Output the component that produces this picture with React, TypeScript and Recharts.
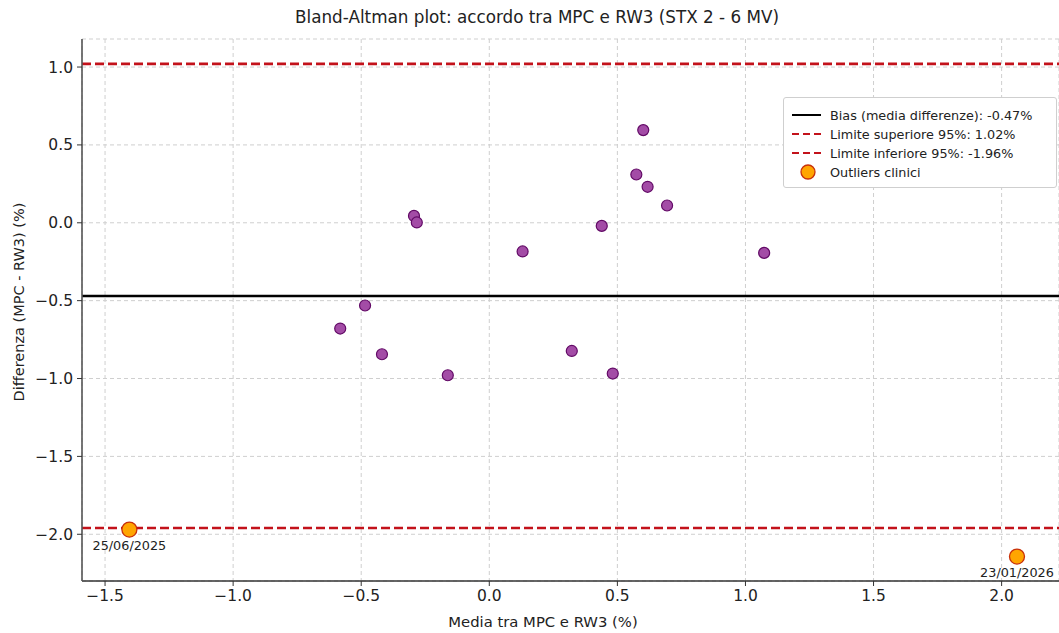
import React from "react";
import {
  ScatterChart,
  Scatter,
  XAxis,
  YAxis,
  CartesianGrid,
  ReferenceLine,
  Legend,
  Label,
} from "recharts";

// medie e differenze tra MPC e RW3 (%)
const meanVals = [-0.582, -0.485, -0.419, -0.294, -0.283, -0.162, 0.13, 0.322, 0.439, 0.482, 0.574, 0.601, 0.618, 0.694, 1.073];
const diffVals = [-0.679, -0.531, -0.844, 0.044, 0.002, -0.979, -0.184, -0.823, -0.02, -0.968, 0.31, 0.595, 0.231, 0.111, -0.193];

// outliers clinici
const outlierMeans = [-1.405, 2.06];
const outlierDiffs = [-1.97, -2.143];
const outlierDates = ["25/06/2025", "23/01/2026"];

const bias = -0.47;
const upperLimit = 1.02;
const lowerLimit = -1.96;

const xTicks = [-1.5, -1.0, -0.5, 0.0, 0.5, 1.0, 1.5, 2.0];
const yTicks = [-2.0, -1.5, -1.0, -0.5, 0.0, 0.5, 1.0];

const points = meanVals.map((m, i) => ({ x: m, y: diffVals[i] }));
const outliers = outlierMeans.map((m, i) => ({ x: m, y: outlierDiffs[i], date: outlierDates[i] }));

const FONT = "'DejaVu Sans', sans-serif";
const RED = "#c3121b";
const fmt = (v: number) => v.toFixed(1).replace("-", "\u2212");

const legendRows = [
  { kind: "solid", text: `Bias (media differenze): ${bias.toFixed(2)}%` },
  { kind: "dash", text: `Limite superiore 95%: ${upperLimit.toFixed(2)}%` },
  { kind: "dash", text: `Limite inferiore 95%: ${lowerLimit.toFixed(2)}%` },
  { kind: "dot", text: "Outliers clinici" },
];

function LegendBox() {
  return (
    <div
      style={{
        position: "relative",
        width: 272,
        height: 89,
        background: "#fff",
        border: "1px solid #cfcfcf",
        borderRadius: 3,
        fontFamily: FONT,
        fontSize: 12.8,
        color: "#222",
      }}
    >
      {legendRows.map((r, i) => (
        <div key={i} style={{ position: "absolute", left: 0, top: 8 + i * 19, height: 18, display: "flex", alignItems: "center" }}>
          <svg width={46} height={18}>
            {r.kind === "solid" && <line x1={8} x2={37} y1={9} y2={9} stroke="#000" strokeWidth={2} />}
            {r.kind === "dash" && (
              <line x1={8} x2={37} y1={9} y2={9} stroke={RED} strokeWidth={2} strokeDasharray="7 4" />
            )}
            {r.kind === "dot" && <circle cx={24} cy={9} r={7} fill="#ffa500" stroke="#c8300a" strokeWidth={1.3} />}
          </svg>
          <span style={{ whiteSpace: "nowrap" }}>{r.text}</span>
        </div>
      ))}
    </div>
  );
}

const PointShape = (props: any) => (
  <circle cx={props.cx} cy={props.cy} r={5.5} fill="#a34ca6" stroke="#620a66" strokeWidth={1.2} />
);

const OutlierShape = (props: any) => (
  <g>
    <circle cx={props.cx} cy={props.cy} r={7.5} fill="#ffa500" stroke="#c8300a" strokeWidth={1.3} />
    <text
      x={props.cx}
      y={props.cy + 17}
      textAnchor="middle"
      dominantBaseline="middle"
      fontFamily={FONT}
      fontSize={12.8}
      fill="#222"
    >
      {props.payload.date}
    </text>
  </g>
);

export default function App() {
  return (
    <div style={{ position: "absolute", left: 0, top: 0, width: 1059, height: 633, background: "#fff" }}>
      <div
        style={{
          position: "absolute",
          left: 0,
          top: 7,
          width: 1074,
          textAlign: "center",
          fontFamily: FONT,
          fontSize: 16.8,
          color: "#222",
        }}
      >
        Bland-Altman plot: accordo tra MPC e RW3 (STX 2 - 6 MV)
      </div>
      <ScatterChart width={1059} height={633} margin={{ top: 39, right: 0, bottom: 0, left: 0 }}>
        <CartesianGrid stroke="#cfcfcf" strokeDasharray="4 3" />
        <XAxis
          type="number"
          dataKey="x"
          domain={[-1.59, 2.224]}
          ticks={xTicks}
          tickFormatter={fmt}
          allowDataOverflow
          height={52}
          tickSize={5}
          tickMargin={4}
          tick={{ fontFamily: FONT, fontSize: 15.5, fill: "#222" }}
          axisLine={{ stroke: "#333", strokeWidth: 1.3 }}
          tickLine={{ stroke: "#333" }}
        >
          <Label
            content={() => (
              <text x={543} y={623} textAnchor="middle" dominantBaseline="middle" fontFamily={FONT} fontSize={14.8} fill="#222">
                Media tra MPC e RW3 (%)
              </text>
            )}
          />
        </XAxis>
        <XAxis xAxisId="top" orientation="top" type="number" domain={[-1.59, 2.224]} height={0} tick={false} tickLine={false} axisLine={{ stroke: "#333", strokeWidth: 1.2 }} />
        <YAxis
          type="number"
          dataKey="y"
          domain={[-2.3, 1.18]}
          ticks={yTicks}
          tickFormatter={fmt}
          allowDataOverflow
          width={82}
          tickSize={5}
          tickMargin={4}
          tick={{ fontFamily: FONT, fontSize: 15.5, fill: "#222" }}
          axisLine={{ stroke: "#555", strokeWidth: 1.6 }}
          tickLine={{ stroke: "#333" }}
        >
          <Label
            content={() => (
              <text
                x={20}
                y={302}
                transform="rotate(-90 20 302)"
                textAnchor="middle"
                dominantBaseline="middle"
                fontFamily={FONT}
                fontSize={14.5}
                fill="#222"
              >
                Differenza (MPC - RW3) (%)
              </text>
            )}
          />
        </YAxis>
        <ReferenceLine y={bias} stroke="#000" strokeWidth={2.4} />
        <ReferenceLine y={upperLimit} stroke={RED} strokeWidth={2.6} strokeDasharray="9 4" />
        <ReferenceLine y={lowerLimit} stroke={RED} strokeWidth={2.6} strokeDasharray="9 4" />
        <Scatter data={points} shape={PointShape} isAnimationActive={false} />
        <Scatter data={outliers} shape={OutlierShape} isAnimationActive={false} />
        <Legend
          layout="vertical"
          align="center"
          verticalAlign="middle"
          content={() => <LegendBox />}
          wrapperStyle={{ left: 783, top: 97, width: 274, height: 91 }}
        />
      </ScatterChart>
    </div>
  );
}
